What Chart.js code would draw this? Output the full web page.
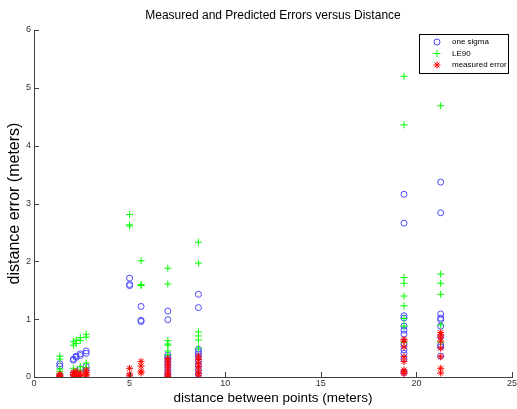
<!DOCTYPE html>
<html>
<head>
<meta charset="utf-8">
<script src="https://cdn.jsdelivr.net/npm/chart.js@4"></script>
<style>
    html, body { margin: 0; padding: 0; background: #fff; }
</style>
</head>
<body>
<canvas id="errChart" width="517" height="409"></canvas>
<script>
// distancias medidas (m), uma coluna de pontos por distancia
const distances = [1.35, 2.06, 2.2, 2.42, 2.73, 5.0, 5.6, 7.0, 8.6, 19.35, 21.27];

// one sigma, por coluna
const oneSigma = [
    [0.23, 0.19, 0.02],
    [0.29, 0.31, 0.06],
    [0.34, 0.36, 0.04],
    [0.40, 0.37, 0.14],
    [0.45, 0.41, 0.18, 0.12],
    [1.71, 1.60, 1.58],
    [1.22, 0.98, 0.96],
    [1.14, 0.99, 0.38, 0.34, 0.30, 0.25, 0.20, 0.15, 0.10, 0.05],
    [1.43, 1.20, 0.48, 0.44, 0.40, 0.35, 0.28, 0.20, 0.12, 0.05],
    [3.16, 2.66, 1.06, 1.02, 0.88, 0.81, 0.74, 0.57, 0.47, 0.41, 0.31, 0.08],
    [3.37, 2.84, 1.09, 1.02, 0.99, 0.88, 0.70, 0.55, 0.52, 0.36]
];

// LE90, por coluna
const le90 = [
    [0.36, 0.31, 0.14, 0.10, 0.06],
    [0.55, 0.61, 0.15, 0.08],
    [0.64, 0.58, 0.10],
    [0.68, 0.63, 0.18, 0.12],
    [0.74, 0.69, 0.24, 0.16],
    [2.81, 2.63, 2.61],
    [2.01, 1.60, 1.58],
    [1.88, 1.61, 0.63, 0.57, 0.55, 0.45, 0.38],
    [2.33, 1.97, 0.78, 0.71, 0.64, 0.50],
    [5.20, 4.36, 1.72, 1.62, 1.40, 1.23, 1.01, 0.88, 0.60],
    [4.69, 1.78, 1.62, 1.43, 0.90, 0.60]
];

// erro medido, por coluna
const measuredError = [
    [0.05, 0.03, 0.01],
    [0.08, 0.04, 0.02],
    [0.10, 0.05, 0.01],
    [0.07, 0.03, 0.02],
    [0.12, 0.08, 0.04, 0.02],
    [0.15, 0.05, 0.02],
    [0.27, 0.19, 0.10, 0.07],
    [0.32, 0.27, 0.22, 0.17, 0.12, 0.07, 0.03, 0.01],
    [0.36, 0.30, 0.24, 0.18, 0.12, 0.06, 0.02],
    [0.65, 0.62, 0.52, 0.35, 0.27, 0.12, 0.09, 0.06],
    [0.77, 0.73, 0.68, 0.62, 0.50, 0.35, 0.15, 0.07]
];

const xTicks = [0, 5, 10, 15, 20, 25];
const yTicks = [0, 1, 2, 3, 4, 5, 6];

// transforma colunas em pontos {x, y}
function toPoints(columns) {
    const pts = [];
    columns.forEach((col, i) => {
        col.forEach(v => pts.push({ x: distances[i], y: v }));
    });
    return pts;
}

const FONT = "'Liberation Sans', Arial, sans-serif";

// ticks para dentro, como no matlab
const innerTicks = {
    id: 'innerTicks',
    afterDraw(chart) {
        const ctx = chart.ctx;
        const area = chart.chartArea;
        const xs = chart.scales.x;
        const ys = chart.scales.y;
        ctx.save();
        ctx.strokeStyle = '#404040';
        ctx.lineWidth = 1;
        ctx.beginPath();
        xTicks.forEach(t => {
            const px = Math.round(xs.getPixelForValue(t)) + 0.5;
            ctx.moveTo(px, area.bottom);
            ctx.lineTo(px, area.bottom - 5);
        });
        yTicks.forEach(t => {
            const py = Math.round(ys.getPixelForValue(t)) + 0.5;
            ctx.moveTo(area.left, py);
            ctx.lineTo(area.left + 5, py);
        });
        ctx.stroke();
        ctx.restore();
    }
};

// legenda dentro do grafico, canto superior direito
const boxLegend = {
    id: 'boxLegend',
    afterDraw(chart) {
        const ctx = chart.ctx;
        const x0 = 419.5, y0 = 34.5, w = 89, h = 39;
        ctx.save();
        ctx.fillStyle = '#fff';
        ctx.fillRect(x0, y0, w, h);
        ctx.strokeStyle = '#000';
        ctx.lineWidth = 1;
        ctx.strokeRect(x0, y0, w, h);
        const order = [2, 1, 0];
        ctx.font = '8px ' + FONT;
        ctx.textBaseline = 'middle';
        order.forEach((di, row) => {
            const ds = chart.data.datasets[di];
            const cy = 42 + row * 11.5;
            ctx.strokeStyle = ds.borderColor;
            ctx.fillStyle = ds.backgroundColor;
            ctx.lineWidth = 1;
            Chart.helpers.drawPoint(ctx, {
                pointStyle: ds.pointStyle,
                radius: ds.pointRadius,
                borderWidth: 1
            }, 437, cy);
            ctx.fillStyle = '#000';
            ctx.fillText(ds.label, 452, cy);
        });
        ctx.restore();
    }
};

new Chart(document.getElementById('errChart'), {
    type: 'scatter',
    data: {
        datasets: [
            {
                label: 'measured error',
                data: toPoints(measuredError),
                pointStyle: 'star',
                pointRadius: 3.5,
                borderColor: '#ff0000',
                backgroundColor: '#ff0000',
                borderWidth: 1,
                order: 1
            },
            {
                label: 'LE90',
                data: toPoints(le90),
                pointStyle: 'cross',
                pointRadius: 3.5,
                borderColor: '#00ff00',
                backgroundColor: '#00ff00',
                borderWidth: 1,
                order: 2
            },
            {
                label: 'one sigma',
                data: toPoints(oneSigma),
                pointStyle: 'circle',
                pointRadius: 3,
                borderColor: '#4a4aff',
                backgroundColor: 'rgba(0,0,0,0)',
                borderWidth: 1,
                order: 3
            }
        ]
    },
    options: {
        responsive: false,
        animation: false,
        events: [],
        layout: { padding: { right: 3 } },
        plugins: {
            legend: { display: false },
            tooltip: { enabled: false },
            title: {
                display: true,
                text: 'Measured and Predicted Errors versus Distance',
                fullSize: false,
                color: '#000',
                font: { family: FONT, size: 12, weight: 'normal' },
                padding: { top: 8, bottom: 7.6 }
            }
        },
        scales: {
            x: {
                type: 'linear',
                min: 0,
                max: 25,
                ticks: {
                    stepSize: 5,
                    color: '#333',
                    font: { family: FONT, size: 9 },
                    padding: 1,
                    maxRotation: 0
                },
                grid: { drawOnChartArea: false, drawTicks: false },
                border: { color: '#404040' },
                title: {
                    display: true,
                    text: 'distance between points (meters)',
                    color: '#000',
                    font: { family: FONT, size: 13.5 },
                    padding: 3
                },
                afterFit(scale) {
                    scale.height = 32;
                    scale.paddingLeft = 0;
                    scale.paddingRight = 0;
                }
            },
            y: {
                min: 0,
                max: 6,
                ticks: {
                    stepSize: 1,
                    color: '#333',
                    font: { family: FONT, size: 9 },
                    padding: 3
                },
                grid: { drawOnChartArea: false, drawTicks: false },
                border: { color: '#404040' },
                title: {
                    display: true,
                    text: 'distance error (meters)',
                    color: '#000',
                    font: { family: FONT, size: 16 },
                    padding: 5
                },
                afterFit(scale) {
                    scale.width = 34;
                    scale.paddingTop = 0;
                    scale.paddingBottom = 0;
                }
            }
        }
    },
    plugins: [innerTicks, boxLegend]
});
</script>
</body>
</html>
